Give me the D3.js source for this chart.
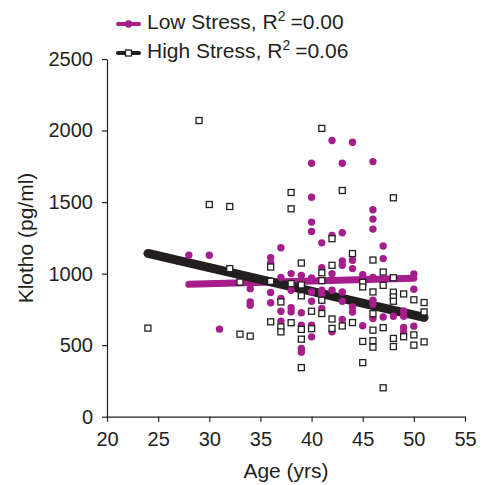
<!DOCTYPE html>
<html>
<head>
<meta charset="utf-8">
<script src="https://cdn.jsdelivr.net/npm/d3@7"></script>
<style>
  body { margin: 0; background: #fff; }
  text { font-family: "Liberation Sans", Arial, sans-serif; fill: #231f20; }
</style>
</head>
<body>
<svg id="chart" width="484" height="485"></svg>
<script>
// low stress group (purple dots)
var lowAge = [28,30,31,34,34,34,36,36,36,36,37,37,37,37,37,38,38,38,38,39,39,39,39,39,
  40,40,40,40,40,40,40,40,40,41,41,41,41,41,42,42,42,42,42,43,43,43,43,43,43,43,
  44,44,44,44,44,45,45,46,46,46,46,46,46,46,46,47,47,47,48,49,49,49,49,50,50,50];
var lowKlotho = [1128,1128,612,895,802,779,1112,1077,868,796,1181,974,826,737,667,1000,884,762,734,988,727,640,477,451,
  1771,1534,1360,1295,969,872,807,640,558,1215,1042,884,856,756,1930,1267,1000,884,593,1771,1286,1088,1058,872,807,679,
  1918,1093,1035,767,732,992,636,1783,1446,1381,1311,973,814,786,686,1193,1105,697,702,739,702,623,593,997,891,633];

// high stress group (open squares)
var highAge = [24,29,30,32,32,33,33,34,36,36,36,37,37,37,38,38,38,38,39,39,39,39,39,39,40,40,
  41,41,41,41,41,42,42,42,42,43,43,44,44,45,45,45,45,46,46,46,46,46,46,47,47,47,47,
  48,48,48,48,48,48,48,49,49,50,50,50,51,51,51];
var highKlotho = [619,2070,1483,1469,1035,941,577,563,1046,946,663,802,628,593,1567,1453,930,657,1074,921,845,610,542,343,737,615,
  2015,1006,951,814,721,1244,1058,683,617,1581,634,1140,658,939,907,526,378,1095,872,720,605,531,486,1011,918,622,202,
  1530,971,870,837,807,547,490,858,559,817,572,500,798,732,523];

// fitted lines, end points
var lowFitAge = [28, 50], lowFitKlotho = [925, 968];
var highFitAge = [24, 51], highFitKlotho = [1141, 694];

var xTicks = [20,25,30,35,40,45,50,55];
var yTicks = [0,500,1000,1500,2000,2500];

var purple = "#a61e8c", dark = "#231f20";

var svg = d3.select("#chart");
var x = d3.scaleLinear().domain([20, 55]).range([107, 465]);
var y = d3.scaleLinear().domain([0, 2500]).range([416.7, 59]);

function styleAxis(g){
    g.select(".domain").attr("stroke", dark).attr("stroke-width", 1.2);
    g.selectAll(".tick line").attr("stroke", dark).attr("stroke-width", 1.2);
    g.selectAll(".tick text").attr("font-size", 20)
        .attr("font-family", "Liberation Sans, Arial, sans-serif").attr("fill", dark);
}

// axes
svg.append("g")
    .attr("transform", "translate(0,416.7)")
    .call(d3.axisBottom(x).tickValues(xTicks).tickSize(5).tickPadding(10).tickSizeOuter(0))
    .call(styleAxis);
svg.append("g")
    .attr("transform", "translate(107,0)")
    .call(d3.axisLeft(y).tickValues(yTicks).tickFormat(d3.format("d")).tickSize(5).tickPadding(9).tickSizeOuter(0))
    .call(styleAxis);

svg.append("text").attr("x", 286).attr("y", 478).attr("text-anchor", "middle")
    .attr("font-size", 21).text("Age (yrs)");
svg.append("text").attr("transform", "translate(33,238) rotate(-90)").attr("text-anchor", "middle")
    .attr("font-size", 21).text("Klotho (pg/ml)");

// fit lines
var line = d3.line().x(function(d){ return x(d[0]); }).y(function(d){ return y(d[1]); });
svg.append("path").datum(d3.zip(lowFitAge, lowFitKlotho))
    .attr("d", line).attr("fill", "none").attr("stroke", purple)
    .attr("stroke-width", 7).attr("stroke-linecap", "round");
svg.append("path").datum(d3.zip(highFitAge, highFitKlotho))
    .attr("d", line).attr("fill", "none").attr("stroke", dark)
    .attr("stroke-width", 9).attr("stroke-linecap", "round");

// points
svg.append("g").selectAll("circle")
    .data(d3.zip(lowAge, lowKlotho))
    .enter().append("circle")
    .attr("cx", function(d){ return x(d[0]); })
    .attr("cy", function(d){ return y(d[1]); })
    .attr("r", 3.7)
    .attr("fill", purple);

var s = 6;
svg.append("g").selectAll("rect")
    .data(d3.zip(highAge, highKlotho))
    .enter().append("rect")
    .attr("x", function(d){ return x(d[0]) - s/2; })
    .attr("y", function(d){ return y(d[1]) - s/2; })
    .attr("width", s).attr("height", s)
    .attr("fill", "#fff").attr("stroke", dark).attr("stroke-width", 1.3);

// legend
var legend = [
    {label: "Low Stress, R", r2: "=0.00", color: purple, type: "circle", yy: 24},
    {label: "High Stress, R", r2: "=0.06", color: dark, type: "rect", yy: 53}
];
var lg = svg.append("g").selectAll("g").data(legend).enter().append("g")
    .attr("transform", function(d){ return "translate(0," + d.yy + ")"; });
lg.append("line").attr("x1", 118).attr("x2", 139).attr("y1", 0).attr("y2", 0)
    .attr("stroke", function(d){ return d.color; }).attr("stroke-width", 4).attr("stroke-linecap", "round");
lg.filter(function(d){ return d.type == "circle"; }).append("circle")
    .attr("cx", 128.5).attr("cy", 0).attr("r", 3.7).attr("fill", purple);
lg.filter(function(d){ return d.type == "rect"; }).append("rect")
    .attr("x", 125.5).attr("y", -3).attr("width", 6).attr("height", 6)
    .attr("fill", "#fff").attr("stroke", dark).attr("stroke-width", 1.3);
var t = lg.append("text").attr("x", 147).attr("y", 4.5).attr("font-size", 21);
t.append("tspan").text(function(d){ return d.label; });
t.append("tspan").attr("dy", -8).attr("font-size", 14).text("2");
t.append("tspan").attr("dy", 8).attr("dx", 5).text(function(d){ return d.r2; });
</script>
</body>
</html>
